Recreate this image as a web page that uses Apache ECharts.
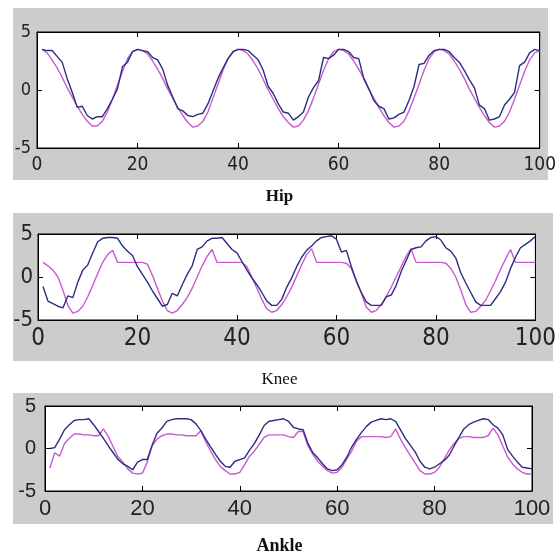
<!DOCTYPE html>
<html><head><meta charset="utf-8">
<script src="https://cdn.jsdelivr.net/npm/echarts@6/dist/echarts.min.js"></script>
<style>html,body{margin:0;padding:0;background:#fff}#c{width:559px;height:556px}</style>
</head><body><div id="c"></div>
<script>
const panelTitles = ['Hip', 'Knee', 'Ankle'];
const xTicks = [0, 20, 40, 60, 80, 100];
const yTicks = [-5, 0, 5];

const hipBlue = [3.5,3.4,3.4,2.9,2.4,1.0,-0.2,-1.5,-1.4,-2.2,-2.5,-2.3,-2.3,-1.6,-0.8,0.1,2.0,2.4,3.3,3.5,
3.4,3.3,2.8,2.6,1.8,0.4,-0.6,-1.6,-1.8,-2.2,-2.3,-2.1,-2.0,-1.2,-0.1,1.0,1.9,2.7,3.3,3.5,
3.5,3.4,3.0,2.6,1.7,0.3,-0.3,-1.2,-1.9,-2.0,-2.6,-2.3,-1.9,-0.6,0.2,0.8,2.8,2.7,3.0,3.5,
3.5,3.3,2.8,2.7,1.0,0.1,-0.9,-1.4,-1.6,-2.5,-2.4,-2.1,-1.9,-0.9,0.3,2.2,2.3,3.0,3.4,3.5,
3.5,3.3,2.8,2.4,1.7,0.9,0.2,-1.3,-1.6,-2.6,-2.5,-2.3,-1.3,-0.8,-0.2,2.1,2.4,3.2,3.5,3.4];
const hipMagenta = [3.5,3.2,2.6,1.9,1.1,0.2,-0.6,-1.4,-2.1,-2.7,-3.1,-3.1,-2.7,-1.9,-0.8,0.4,1.6,2.7,3.3,3.5,
3.4,3.1,2.5,1.8,1.0,0.1,-0.7,-1.5,-2.2,-2.8,-3.2,-3.1,-2.7,-1.9,-0.7,0.5,1.7,2.7,3.3,3.5,
3.4,3.1,2.5,1.8,0.9,0.0,-0.8,-1.6,-2.3,-2.8,-3.2,-3.1,-2.6,-1.8,-0.7,0.5,1.7,2.7,3.3,3.5,
3.4,3.1,2.5,1.8,1.0,0.1,-0.7,-1.5,-2.2,-2.8,-3.2,-3.1,-2.7,-1.8,-0.7,0.5,1.7,2.7,3.3,3.5,
3.4,3.1,2.5,1.8,1.0,0.1,-0.7,-1.5,-2.2,-2.8,-3.2,-3.1,-2.7,-1.9,-0.8,0.4,1.6,2.6,3.2,3.4];

const kneeBlue = [-1.1,-2.8,-3.1,-3.4,-3.6,-2.2,-2.4,-0.6,0.8,1.4,2.8,4.1,4.5,4.6,4.6,4.5,3.6,3.0,2.5,1.2,
0.3,-0.6,-1.6,-2.5,-3.4,-3.2,-1.9,-2.2,-0.9,0.3,1.3,3.2,3.5,4.2,4.5,4.5,4.6,3.9,3.2,2.8,
1.8,0.8,-0.1,-0.9,-1.8,-2.8,-3.3,-3.3,-2.6,-1.2,-0.1,1.2,2.3,3.1,3.6,4.2,4.6,4.7,4.8,4.4,
2.9,3.1,1.2,-0.5,-1.8,-2.9,-3.3,-3.3,-3.3,-2.3,-2.1,-1.0,0.6,1.9,3.2,3.4,3.5,4.2,4.6,4.7,
4.3,3.4,3.0,2.2,0.5,-0.7,-1.8,-2.9,-3.3,-3.3,-3.3,-2.5,-1.7,-0.6,1.0,2.3,3.4,3.8,4.2,4.7];
const kneeMagenta = [1.7,1.3,0.8,0.0,-1.5,-3.3,-4.2,-4.0,-3.4,-2.3,-1.0,0.4,1.7,2.6,3.1,1.7,1.7,1.7,1.7,1.7,
1.7,1.5,0.2,-1.3,-2.8,-3.9,-4.2,-3.9,-3.2,-2.4,-1.3,0.0,1.3,2.4,3.2,1.7,1.7,1.7,1.7,1.7,
1.7,1.2,0.0,-1.3,-2.6,-3.7,-4.1,-3.9,-3.2,-2.3,-1.2,0.1,1.4,2.6,3.3,1.7,1.7,1.7,1.7,1.7,
1.7,1.6,1.0,-0.4,-1.9,-3.5,-4.1,-3.9,-3.2,-2.3,-1.2,0.0,1.2,2.4,3.3,1.7,1.7,1.7,1.7,1.7,
1.7,1.6,1.0,0.0,-1.5,-3.2,-4.1,-4.0,-3.4,-2.7,-1.6,-0.4,0.9,2.1,3.2,1.7,1.7,1.7,1.7,1.7];

const ankleBlue = [0.0,0.1,1.1,2.2,2.8,3.3,3.4,3.4,3.5,2.8,2.0,1.2,0.3,-0.5,-1.3,-1.8,-2.1,-2.5,-1.6,-1.3,
-1.3,0.4,1.8,2.4,3.2,3.4,3.5,3.5,3.5,3.4,2.9,2.1,1.1,0.2,-0.7,-1.5,-2.1,-2.2,-1.5,-1.3,
-1.1,-0.2,0.6,1.6,2.7,3.2,3.3,3.4,3.5,3.2,2.5,2.3,2.2,0.6,-0.5,-1.1,-1.8,-2.4,-2.6,-2.5,
-1.9,-1.0,0.2,1.1,1.9,2.6,3.1,3.3,3.5,3.4,3.5,3.2,2.2,1.2,0.4,-0.4,-1.5,-2.2,-2.4,-2.2,
-1.8,-1.4,-0.8,0.3,1.3,2.3,2.8,3.1,3.3,3.5,3.4,2.8,2.4,1.6,-0.1,-0.9,-1.6,-2.2,-2.3,-2.4];
const ankleMagenta = [-2.3,-0.5,-0.9,0.6,1.2,1.7,1.7,1.6,1.6,1.5,1.5,2.3,1.4,0.2,-1.0,-1.6,-2.4,-2.9,-3.0,-2.9,
-1.6,0.3,1.1,1.5,1.7,1.7,1.6,1.6,1.5,1.5,1.5,2.1,0.8,-0.3,-1.3,-2.1,-2.6,-3.0,-3.0,-2.8,
-1.9,-0.9,-0.3,0.5,1.3,1.6,1.6,1.6,1.6,1.4,1.3,2.0,2.0,0.3,-0.7,-1.5,-2.1,-2.6,-2.9,-2.8,
-2.2,-1.2,-0.3,0.9,1.4,1.4,1.4,1.4,1.4,1.3,1.4,2.3,1.1,0.1,-0.8,-1.7,-2.6,-3.0,-3.0,-2.8,
-2.2,-1.2,-0.2,0.6,1.2,1.4,1.4,1.3,1.3,1.3,1.5,2.4,1.6,0.3,-1.0,-1.8,-2.4,-2.8,-3.0,-3.0];

const BLUE = '#2c2c82';
const MAG = '#c65ccf';
const GRAY = '#cccccc';
const NARROW = '"DejaVu Sans Condensed", "Liberation Sans Narrow", "Arial Narrow", sans-serif';

const panels = [
  {blue: hipBlue, mag: hipMagenta, grid:{left:37, top:32, width:504, height:116},
   bg:[13,8,535,172], xFont:{fontFamily:NARROW, fontSize:19}, yFont:{fontFamily:NARROW, fontSize:18}, xMargin:8, yMargin:6,
   title:{text:'Hip', top:183, fontWeight:'bold', fontSize:17}},
  {blue: kneeBlue, mag: kneeMagenta, grid:{left:38, top:234, width:498, height:86},
   bg:[13,213,540,148], xFont:{fontFamily:NARROW, fontSize:24}, yFont:{fontFamily:NARROW, fontSize:22}, xMargin:7, yMargin:5,
   title:{text:'Knee', top:366, fontWeight:'normal', fontSize:17}},
  {blue: ankleBlue, mag: ankleMagenta, grid:{left:45, top:406, width:487, height:85},
   bg:[13,393,540,131], xFont:{fontFamily:'"Liberation Sans", Arial, sans-serif', fontSize:22}, yFont:{fontFamily:'"Liberation Sans", Arial, sans-serif', fontSize:20}, xMargin:7, yMargin:9,
   title:{text:'Ankle', top:532, fontWeight:'bold', fontSize:18}}
];

const grid = [], xAxis = [], yAxis = [], series = [], title = [], graphic = [];
panels.forEach((p, i) => {
  graphic.push({type:'rect', z:-10, silent:true, shape:{x:p.bg[0], y:p.bg[1], width:p.bg[2], height:p.bg[3]}, style:{fill:GRAY}});
  grid.push(Object.assign({show:true, backgroundColor:'#fff', borderColor:'#000', borderWidth:1}, p.grid));
  const tick = {show:true, inside:true, length:5, lineStyle:{color:'#000', width:1}};
  const line = {show:true, onZero:false, lineStyle:{color:'#000'}};
  xAxis.push({type:'value', gridIndex:i, min:xTicks[0], max:xTicks[xTicks.length-1], interval:20, position:'bottom',
    axisLine:line, axisTick:tick, splitLine:{show:false},
    axisLabel:Object.assign({color:'#222', margin:p.xMargin}, p.xFont)});
  xAxis.push({type:'value', gridIndex:i, min:xTicks[0], max:xTicks[xTicks.length-1], interval:20, position:'top',
    axisLine:line, axisTick:tick, splitLine:{show:false}, axisLabel:{show:false}});
  yAxis.push({type:'value', gridIndex:i, min:yTicks[0], max:yTicks[yTicks.length-1], interval:5, position:'left',
    axisLine:line, axisTick:tick, splitLine:{show:false},
    axisLabel:Object.assign({color:'#222', margin:p.yMargin}, p.yFont)});
  yAxis.push({type:'value', gridIndex:i, min:yTicks[0], max:yTicks[yTicks.length-1], interval:5, position:'right',
    axisLine:line, axisTick:tick, splitLine:{show:false}, axisLabel:{show:false}});
  series.push({type:'line', xAxisIndex:2*i, yAxisIndex:2*i, showSymbol:false, silent:true,
    data:p.mag.map((v,k)=>[k+1, v]), lineStyle:{color:MAG, width:1.4}, z:2});
  series.push({type:'line', xAxisIndex:2*i, yAxisIndex:2*i, showSymbol:false, silent:true,
    data:p.blue.map((v,k)=>[k+1, v]), lineStyle:{color:BLUE, width:1.4}, z:3});
  title.push({text:p.title.text, left:'center', top:p.title.top,
    textStyle:{fontFamily:'"Liberation Serif", "Times New Roman", serif', fontWeight:p.title.fontWeight, fontSize:p.title.fontSize, color:'#111'}});
});

const chart = echarts.init(document.getElementById('c'), null, {renderer:'canvas'});
chart.setOption({animation:false, backgroundColor:'#fff', grid, xAxis, yAxis, series, title, graphic});
</script>
</body></html>
